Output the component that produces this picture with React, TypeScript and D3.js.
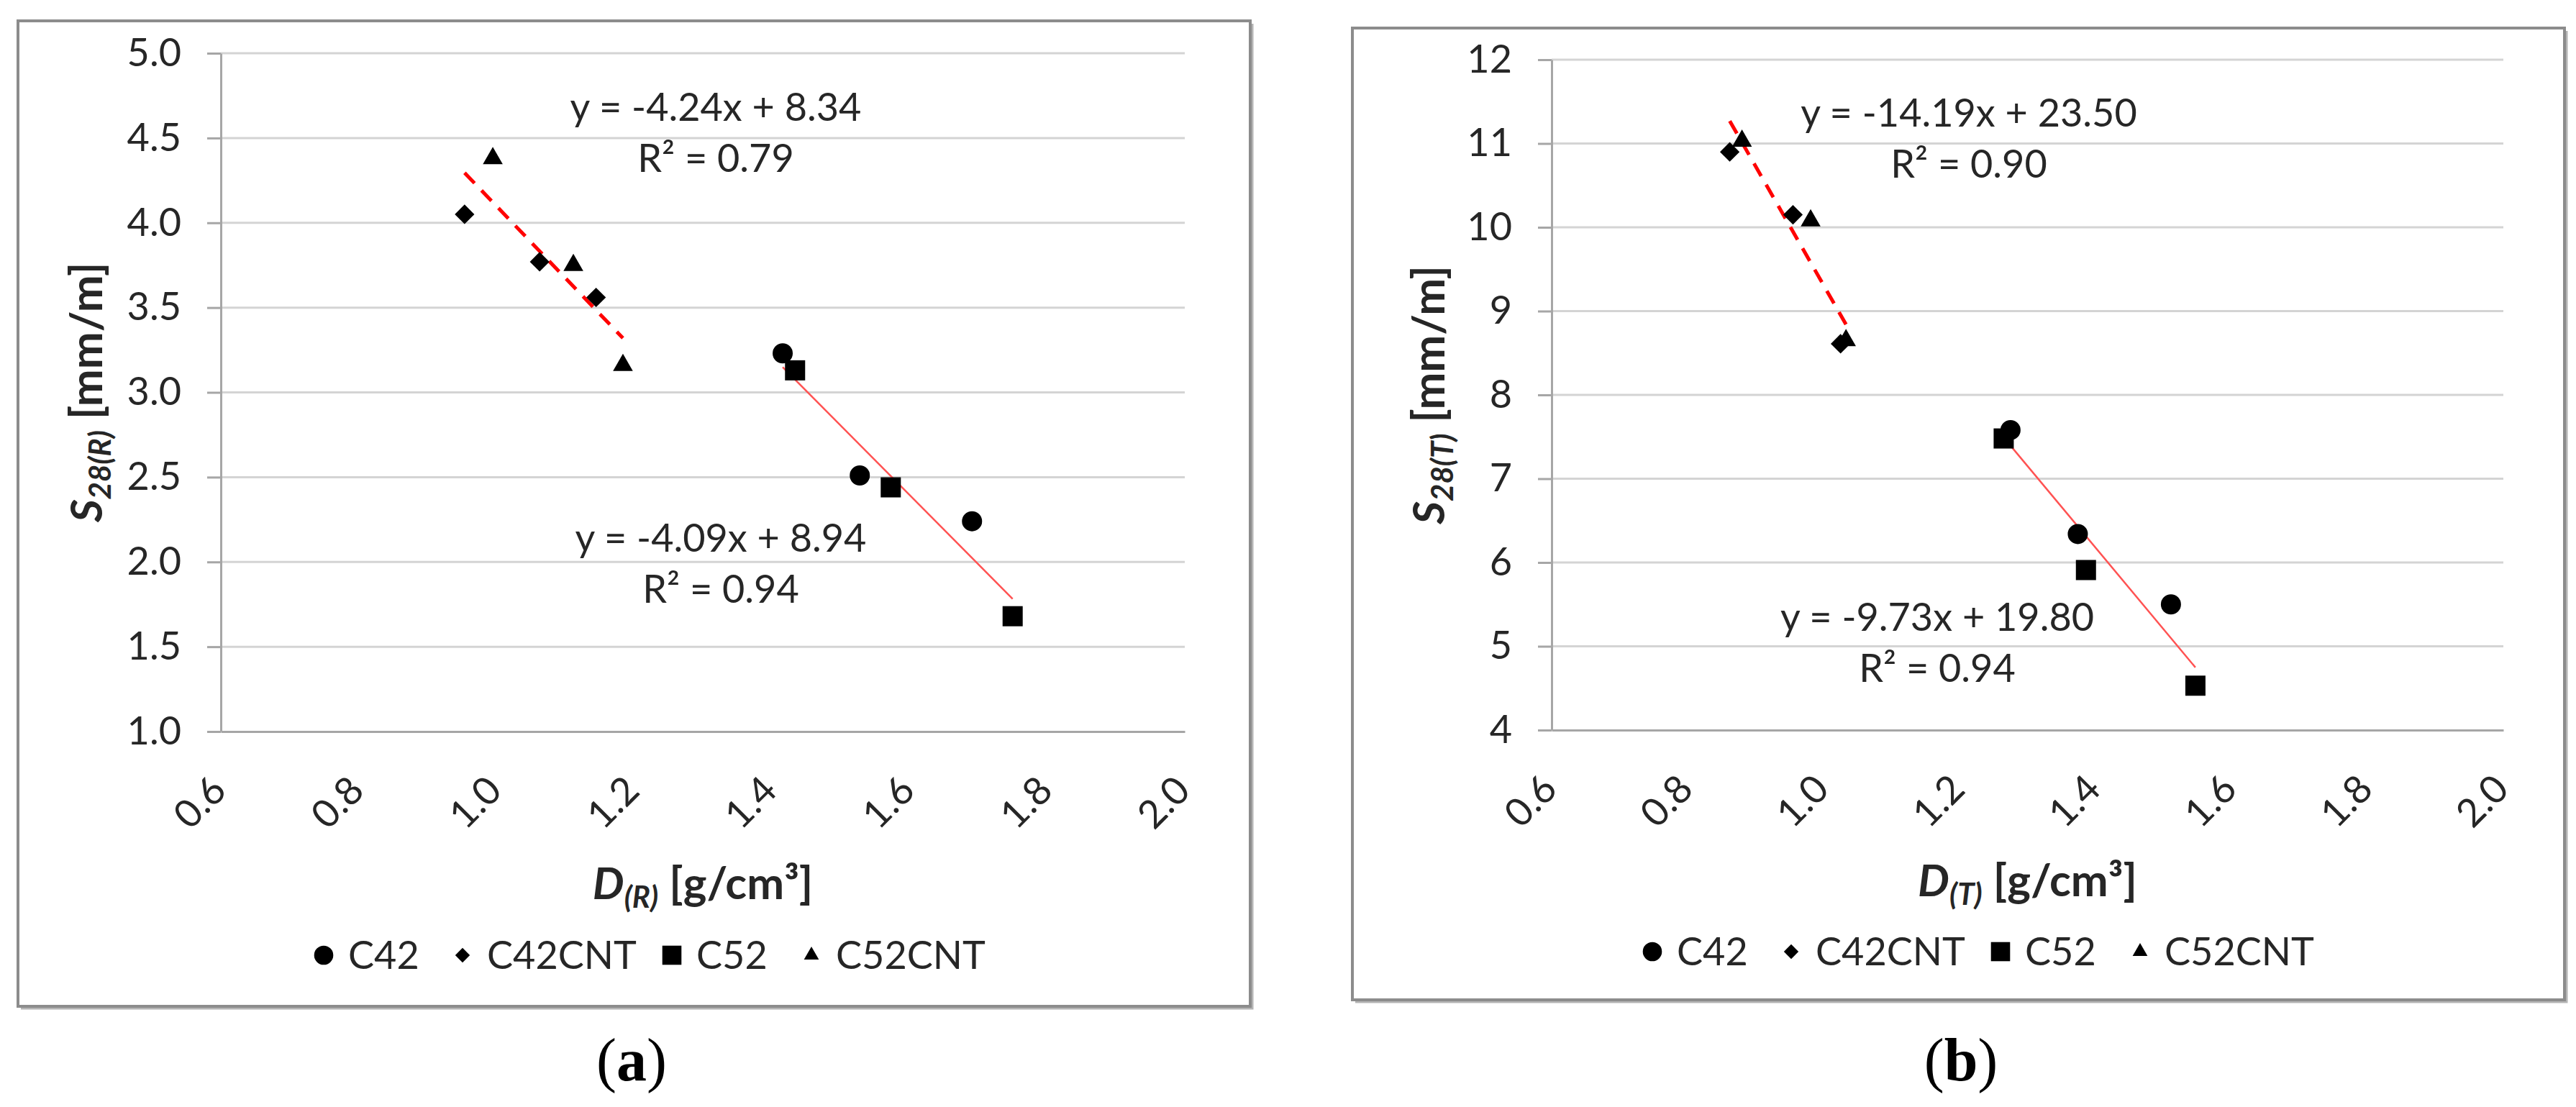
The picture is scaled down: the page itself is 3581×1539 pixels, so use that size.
import { useEffect, useRef } from 'react';
import * as d3 from 'd3';

// ---- series names / legend ----
const seriesNames = ['C42', 'C42CNT', 'C52', 'C52CNT'];

// ---- panel (a): density D(R) vs shrinkage S28(R) ----
const densR_C42 = [1.416, 1.528, 1.691];
const shrR_C42 = [3.23, 2.51, 2.24];
const densR_C42CNT = [0.954, 1.063, 1.145];
const shrR_C42CNT = [4.05, 3.77, 3.56];
const densR_C52 = [1.434, 1.573, 1.75];
const shrR_C52 = [3.13, 2.44, 1.68];
const densR_C52CNT = [0.995, 1.112, 1.184];
const shrR_C52CNT = [4.38, 3.75, 3.16];

// trend lines: [CNT series, plain series]
const trendSlopeR = [-4.24, -4.09];
const trendInterceptR = [8.34, 8.94];
const trendR2R = [0.79, 0.94];

// ---- panel (b): density D(T) vs shrinkage S28(T) ----
const densT_C42 = [1.275, 1.374, 1.511];
const shrT_C42 = [7.58, 6.34, 5.5];
const densT_C42CNT = [0.862, 0.955, 1.025];
const shrT_C42CNT = [10.9, 10.15, 8.61];
const densT_C52 = [1.265, 1.386, 1.547];
const shrT_C52 = [7.48, 5.91, 4.53];
const densT_C52CNT = [0.88, 0.981, 1.033];
const shrT_C52CNT = [11.03, 10.08, 8.65];

const trendSlopeT = [-14.19, -9.73];
const trendInterceptT = [23.5, 19.8];
const trendR2T = [0.9, 0.94];

// ---- ticks ----
const densityTicks = [0.6, 0.8, 1.0, 1.2, 1.4, 1.6, 1.8, 2.0];
const shrinkTicksR = [1.0, 1.5, 2.0, 2.5, 3.0, 3.5, 4.0, 4.5, 5.0];
const shrinkTicksT = [4, 5, 6, 7, 8, 9, 10, 11, 12];

const FONT = "Lato, 'Open Sans', sans-serif";
const SERIF = "'Liberation Serif', 'DejaVu Serif', serif";
const GRID = '#d4d4d4';
const AXIS = '#a6a6a6';
const INK = '#262626';

type Box = { left: number; top: number; right: number; bottom: number };
type Pt = { x: number; y: number };

interface PanelProps {
  frame: Box;
  plot: Box;
  yTicks: number[];
  yFormat: (v: number) => string;
  xs: number[][];
  ys: number[][];
  slopes: number[];
  intercepts: number[];
  r2: number[];
  eqPos: Pt[]; // centre x / baseline y of the two equation blocks
  sub: string;
  yTitleX: number;
  xTitleY: number;
  legendX: number;
  legendY: number;
  caption: string;
  captionX: number;
}

const legendOffsets = [0, 193, 484, 678];

function symbolPath(name: string) {
  if (name === 'C42') return d3.symbol(d3.symbolCircle, 616)();
  if (name === 'C42CNT') return d3.symbol(d3.symbolSquare, 370)();
  if (name === 'C52') return d3.symbol(d3.symbolSquare, 784)();
  return d3.symbol(d3.symbolTriangle, 330)();
}

function Panel(props: PanelProps) {
  const ref = useRef<SVGGElement>(null);

  useEffect(() => {
    if (!ref.current) return;
    const g = d3.select(ref.current);
    g.selectAll('*').remove();

    const { frame, plot, yTicks } = props;
    const x = d3
      .scaleLinear()
      .domain([densityTicks[0], densityTicks[densityTicks.length - 1]])
      .range([plot.left, plot.right]);
    const y = d3
      .scaleLinear()
      .domain([yTicks[0], yTicks[yTicks.length - 1]])
      .range([plot.bottom, plot.top]);

    // chart frame with a little shadow
    g.append('path')
      .attr('d', `M${frame.left + 4},${frame.bottom + 3}H${frame.right + 3}V${frame.top + 4}`)
      .attr('fill', 'none')
      .attr('stroke', '#b4b4b4')
      .attr('stroke-width', 3);
    g.append('rect')
      .attr('x', frame.left)
      .attr('y', frame.top)
      .attr('width', frame.right - frame.left)
      .attr('height', frame.bottom - frame.top)
      .attr('fill', '#fff')
      .attr('stroke', '#8c8c8c')
      .attr('stroke-width', 4);

    // horizontal gridlines
    g.append('g')
      .selectAll('line')
      .data(yTicks.slice(1))
      .join('line')
      .attr('x1', plot.left)
      .attr('x2', plot.right)
      .attr('y1', (d) => y(d))
      .attr('y2', (d) => y(d))
      .attr('stroke', GRID)
      .attr('stroke-width', 3);

    // y axis
    const ya = g
      .append('g')
      .attr('transform', `translate(${plot.left},0)`)
      .call(
        d3
          .axisLeft(y)
          .tickValues(yTicks)
          .tickFormat((d) => props.yFormat(d as number))
          .tickSize(19)
          .tickSizeOuter(0)
          .tickPadding(36) as never
      )
      .attr('font-family', FONT)
      .attr('font-size', 54);
    ya.select('.domain').attr('stroke', AXIS).attr('stroke-width', 3);
    ya.selectAll('.tick line').attr('stroke', AXIS).attr('stroke-width', 3);
    ya.selectAll('.tick text').attr('fill', INK);

    // x axis with rotated labels
    const xa = g
      .append('g')
      .attr('transform', `translate(0,${plot.bottom})`)
      .call(
        d3
          .axisBottom(x)
          .tickValues(densityTicks)
          .tickFormat(d3.format('.1f') as never)
          .tickSize(0)
          .tickSizeOuter(0) as never
      )
      .attr('font-family', FONT)
      .attr('font-size', 54);
    xa.select('.domain').attr('stroke', AXIS).attr('stroke-width', 3);
    xa.selectAll('.tick text')
      .attr('fill', INK)
      .attr('x', 0)
      .attr('y', 0)
      .attr('dy', 0)
      .attr('text-anchor', 'end')
      .attr('transform', 'translate(10,85) rotate(-45)');

    // trend lines: index 0 = CNT series (dashed), 1 = plain series (solid)
    const groups = [
      [...props.xs[1], ...props.xs[3]],
      [...props.xs[0], ...props.xs[2]],
    ];
    const line = d3
      .line<number[]>()
      .x((d) => x(d[0]))
      .y((d) => y(d[1]));
    groups.forEach((gx, i) => {
      const lo = d3.min(gx) ?? 0;
      const hi = d3.max(gx) ?? 0;
      const f = (v: number) => props.slopes[i] * v + props.intercepts[i];
      g.append('path')
        .datum([
          [lo, f(lo)],
          [hi, f(hi)],
        ])
        .attr('d', line)
        .attr('fill', 'none')
        .attr('stroke', i === 0 ? '#ff0000' : '#ff5252')
        .attr('stroke-width', i === 0 ? 5 : 2.5)
        .attr('stroke-dasharray', i === 0 ? '20 14' : null);
    });

    // points
    seriesNames.forEach((name, s) => {
      const sym = symbolPath(name);
      g.append('g')
        .selectAll('path')
        .data(props.xs[s].map((v, i) => [v, props.ys[s][i]]))
        .join('path')
        .attr(
          'transform',
          (d) => `translate(${x(d[0])},${y(d[1])})${name === 'C42CNT' ? ' rotate(45)' : ''}`
        )
        .attr('d', sym)
        .attr('fill', '#000');
    });

    // trend equations
    props.eqPos.forEach((p, i) => {
      const slope = props.slopes[i].toFixed(2);
      const icpt = props.intercepts[i].toFixed(2);
      const t = g
        .append('text')
        .attr('font-family', FONT)
        .attr('font-size', 54)
        .attr('fill', INK)
        .attr('text-anchor', 'middle');
      t.append('tspan').attr('x', p.x).attr('y', p.y).text(`y = ${slope}x + ${icpt}`);
      t.append('tspan')
        .attr('x', p.x)
        .attr('y', p.y + 71)
        .text(`R² = ${props.r2[i].toFixed(2)}`);
    });

    // axis titles
    const cx = (plot.left + plot.right) / 2;
    const xt = g
      .append('text')
      .attr('x', cx)
      .attr('y', props.xTitleY)
      .attr('text-anchor', 'middle')
      .attr('font-family', FONT)
      .attr('font-size', 62)
      .attr('font-weight', 'bold')
      .attr('fill', INK);
    xt.append('tspan').attr('font-style', 'italic').text('D');
    xt.append('tspan')
      .attr('font-style', 'italic')
      .attr('font-size', 42)
      .attr('dy', 12)
      .text(`(${props.sub})`);
    xt.append('tspan').attr('dy', -12).text(' [g/cm³]');

    const cy = (plot.top + plot.bottom) / 2;
    const yt = g
      .append('text')
      .attr('transform', `translate(${props.yTitleX},${cy}) rotate(-90)`)
      .attr('text-anchor', 'middle')
      .attr('font-family', FONT)
      .attr('font-size', 62)
      .attr('font-weight', 'bold')
      .attr('fill', INK);
    yt.append('tspan').attr('font-style', 'italic').text('S');
    yt.append('tspan')
      .attr('font-style', 'italic')
      .attr('font-size', 42)
      .attr('dy', 12)
      .text(`28(${props.sub})`);
    yt.append('tspan').attr('dy', -12).text(' [mm/m]');

    // legend
    seriesNames.forEach((name, s) => {
      const lx = props.legendX + legendOffsets[s];
      g.append('path')
        .attr(
          'transform',
          `translate(${lx},${props.legendY})${name === 'C42CNT' ? ' rotate(45)' : ''} scale(${
            name === 'C42' || name === 'C52' ? 0.95 : 0.75
          })`
        )
        .attr('d', symbolPath(name))
        .attr('fill', '#000');
      g.append('text')
        .attr('x', lx + 34)
        .attr('y', props.legendY)
        .attr('dy', '0.35em')
        .attr('font-family', FONT)
        .attr('font-size', 54)
        .attr('fill', INK)
        .text(name);
    });

    // caption
    const cap = g
      .append('text')
      .attr('x', props.captionX)
      .attr('y', 1502)
      .attr('text-anchor', 'middle')
      .attr('font-family', SERIF)
      .attr('font-size', 84)
      .attr('fill', '#000');
    cap.append('tspan').text('(');
    cap.append('tspan').attr('font-weight', 'bold').text(props.caption);
    cap.append('tspan').text(')');
  }, [props]);

  return <g ref={ref} />;
}

export default function App() {
  return (
    <svg
      width={3581}
      height={1539}
      style={{ position: 'absolute', left: 0, top: 0, background: '#fff', display: 'block' }}
    >
      <Panel
        frame={{ left: 25, top: 29, right: 1738, bottom: 1399 }}
        plot={{ left: 307, top: 74, right: 1647, bottom: 1017 }}
        yTicks={shrinkTicksR}
        yFormat={d3.format('.1f')}
        xs={[densR_C42, densR_C42CNT, densR_C52, densR_C52CNT]}
        ys={[shrR_C42, shrR_C42CNT, shrR_C52, shrR_C52CNT]}
        slopes={trendSlopeR}
        intercepts={trendInterceptR}
        r2={trendR2R}
        eqPos={[
          { x: 995, y: 168 },
          { x: 1002, y: 767 },
        ]}
        sub="R"
        yTitleX={142}
        xTitleY={1250}
        legendX={450}
        legendY={1328}
        caption="a"
        captionX={878}
      />
      <Panel
        frame={{ left: 1880, top: 39, right: 3565, bottom: 1390 }}
        plot={{ left: 2157, top: 83, right: 3480, bottom: 1015 }}
        yTicks={shrinkTicksT}
        yFormat={d3.format('d')}
        xs={[densT_C42, densT_C42CNT, densT_C52, densT_C52CNT]}
        ys={[shrT_C42, shrT_C42CNT, shrT_C52, shrT_C52CNT]}
        slopes={trendSlopeT}
        intercepts={trendInterceptT}
        r2={trendR2T}
        eqPos={[
          { x: 2737, y: 176 },
          { x: 2693, y: 877 },
        ]}
        sub="T"
        yTitleX={2008}
        xTitleY={1246}
        legendX={2297}
        legendY={1323}
        caption="b"
        captionX={2726}
      />
    </svg>
  );
}
